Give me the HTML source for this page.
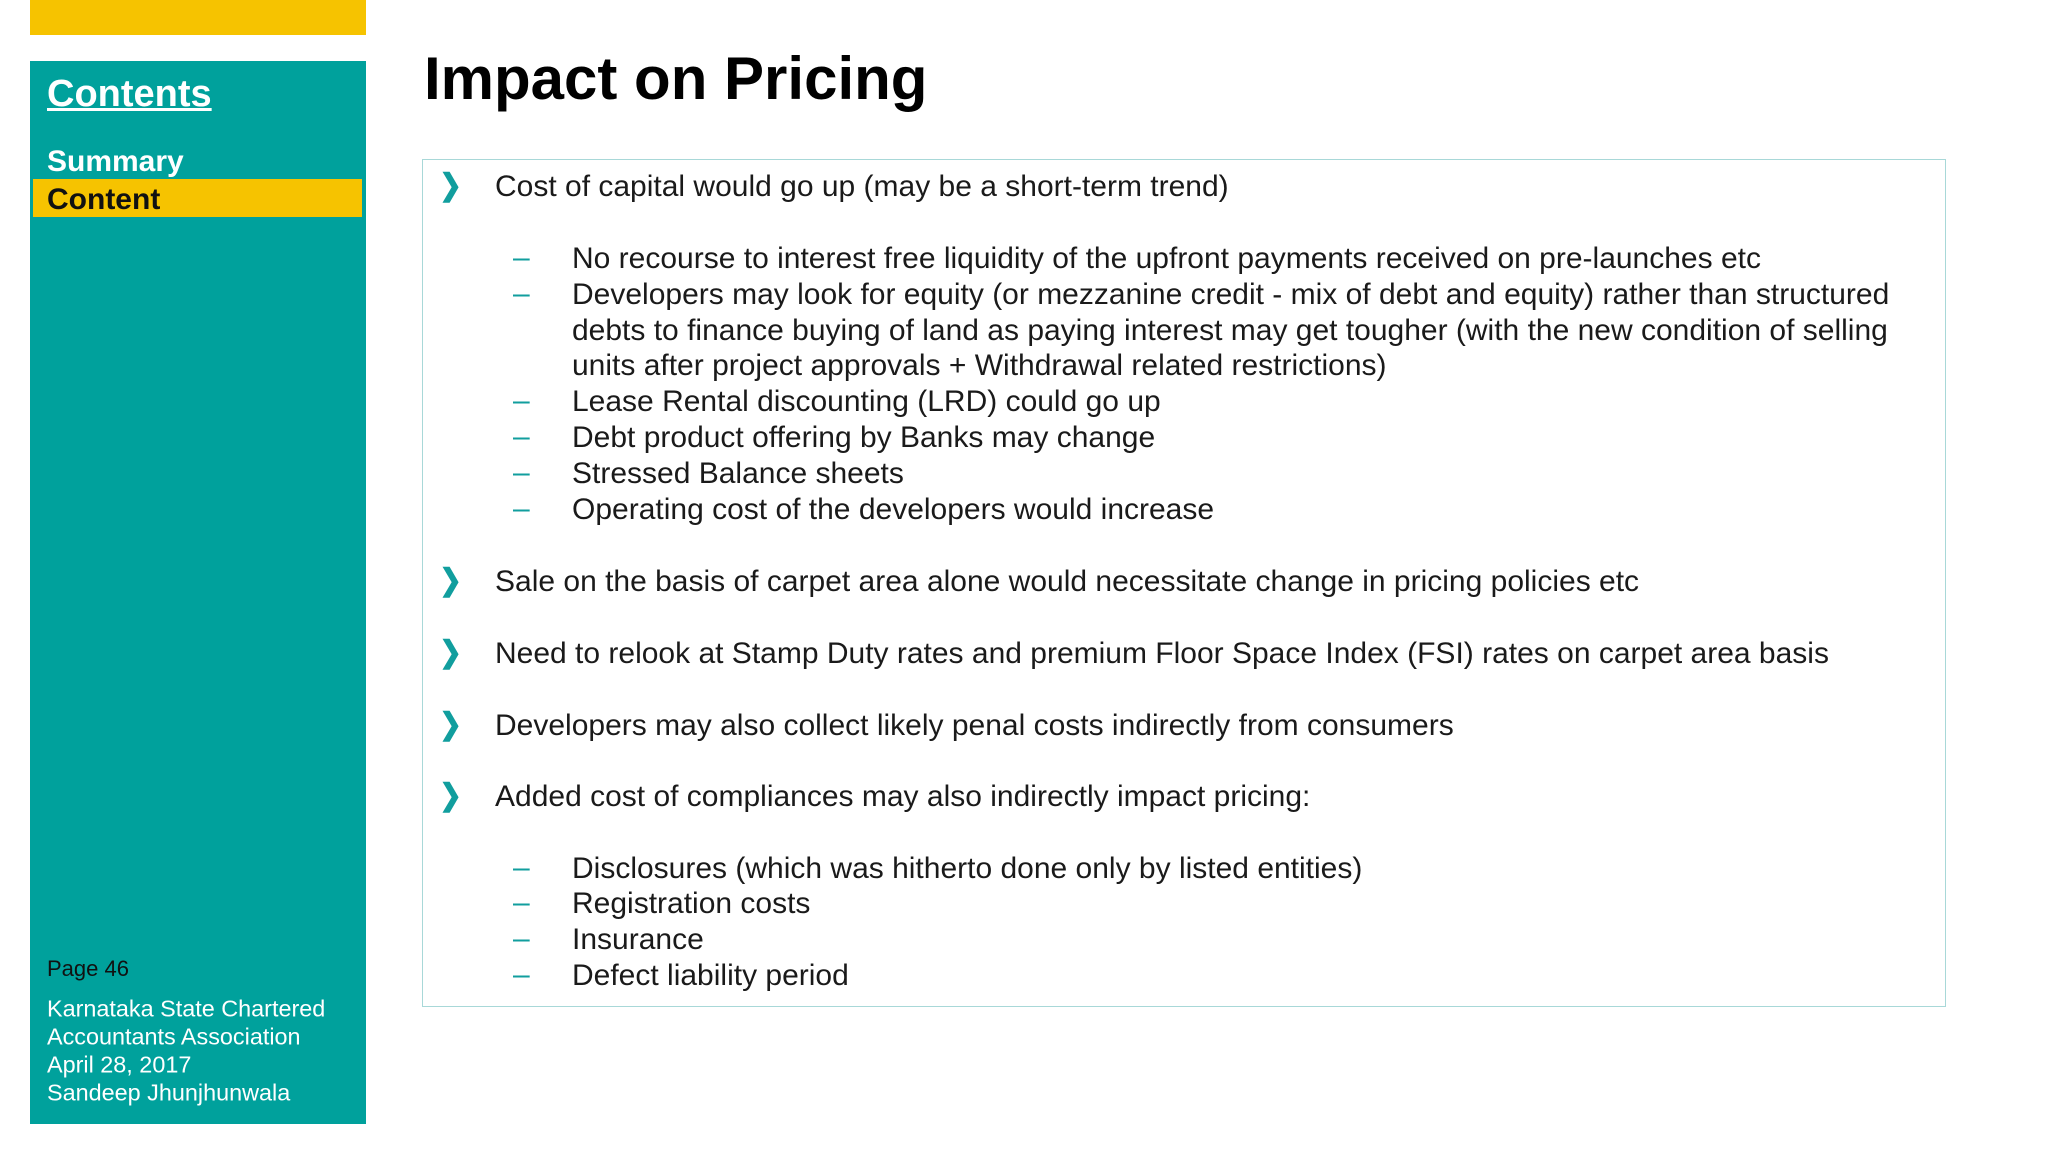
<!DOCTYPE html>
<html><head><meta charset="utf-8"><style>
body{margin:0;width:2048px;height:1152px;background:#fff;position:relative;overflow:hidden;font-family:"Liberation Sans",sans-serif;}
div{position:absolute;}
.l{font-size:30px;color:#1a1a1a;white-space:nowrap;line-height:1;transform:translateY(-50%);}
.b{color:#119e9e;font-size:30px;font-weight:bold;line-height:1;transform:translateY(-50%) scaleX(0.9);}
.d{color:#119e9e;font-size:30px;line-height:1;transform:translateY(-50%);}
.s{color:#fff;font-size:23.4px;line-height:1;white-space:nowrap;transform:translateY(-50%);}
</style></head><body>
<div style="left:30px;top:0;width:336px;height:35px;background:#f6c300"></div>
<div style="left:30px;top:61px;width:336px;height:1063px;background:#00a19c"></div>
<div class="s" style="left:47px;top:94px;font-size:38px;font-weight:bold;text-decoration:underline">Contents</div>
<div class="s" style="left:47px;top:162px;font-size:30px;font-weight:bold">Summary</div>
<div style="left:33px;top:179px;width:329px;height:38px;background:#f6c300"></div>
<div class="s" style="left:47px;top:200px;font-size:30px;font-weight:bold;color:#111">Content</div>
<div class="s" style="left:47px;top:969px;font-size:22px;color:#111">Page 46</div>
<div class="s" style="left:47px;top:1009px">Karnataka State Chartered</div>
<div class="s" style="left:47px;top:1037px">Accountants Association</div>
<div class="s" style="left:47px;top:1065px">April 28, 2017</div>
<div class="s" style="left:47px;top:1093px">Sandeep Jhunjhunwala</div>
<div class="l" style="left:424px;top:79px;font-size:60px;font-weight:bold;color:#000">Impact on Pricing</div>
<div style="left:422px;top:159px;width:1522px;height:846px;border:1.5px solid #a8d8d8"></div>
<div id="items"></div>
<script>
var items=[
["b",187,"Cost of capital would go up (may be a short-term trend)"],
["d",259,"No recourse to interest free liquidity of the upfront payments received on pre-launches etc"],
["d",295,"Developers may look for equity (or mezzanine credit - mix of debt and equity) rather than structured"],
["c",331,"debts to finance buying of land as paying interest may get tougher (with the new condition of selling"],
["c",366,"units after project approvals + Withdrawal related restrictions)"],
["d",402,"Lease Rental discounting (LRD) could go up"],
["d",438,"Debt product offering by Banks may change"],
["d",474,"Stressed Balance sheets"],
["d",510,"Operating cost of the developers would increase"],
["b",582,"Sale on the basis of carpet area alone would necessitate change in pricing policies etc"],
["b",654,"Need to relook at Stamp Duty rates and premium Floor Space Index (FSI) rates on carpet area basis"],
["b",726,"Developers may also collect likely penal costs indirectly from consumers"],
["b",797,"Added cost of compliances may also indirectly impact pricing:"],
["d",869,"Disclosures (which was hitherto done only by listed entities)"],
["d",904,"Registration costs"],
["d",940,"Insurance"],
["d",976,"Defect liability period"]];
var root=document.getElementById('items');
items.forEach(function(it,i){
 var t=document.createElement('div');t.className='l';
 
 
 t.style.top=it[1]+'px';t.style.left=(it[0]=='b'?495:572)+'px';t.textContent=it[2];root.appendChild(t);
 if(it[0]!='c'){var m=document.createElement('div');
 
 
 m.className=it[0];m.style.top=(it[1]-1)+'px';m.style.left=(it[0]=='b'?438:513)+'px';m.textContent=it[0]=='b'?'❯':'–';root.appendChild(m);}
});
</script>
</body></html>
